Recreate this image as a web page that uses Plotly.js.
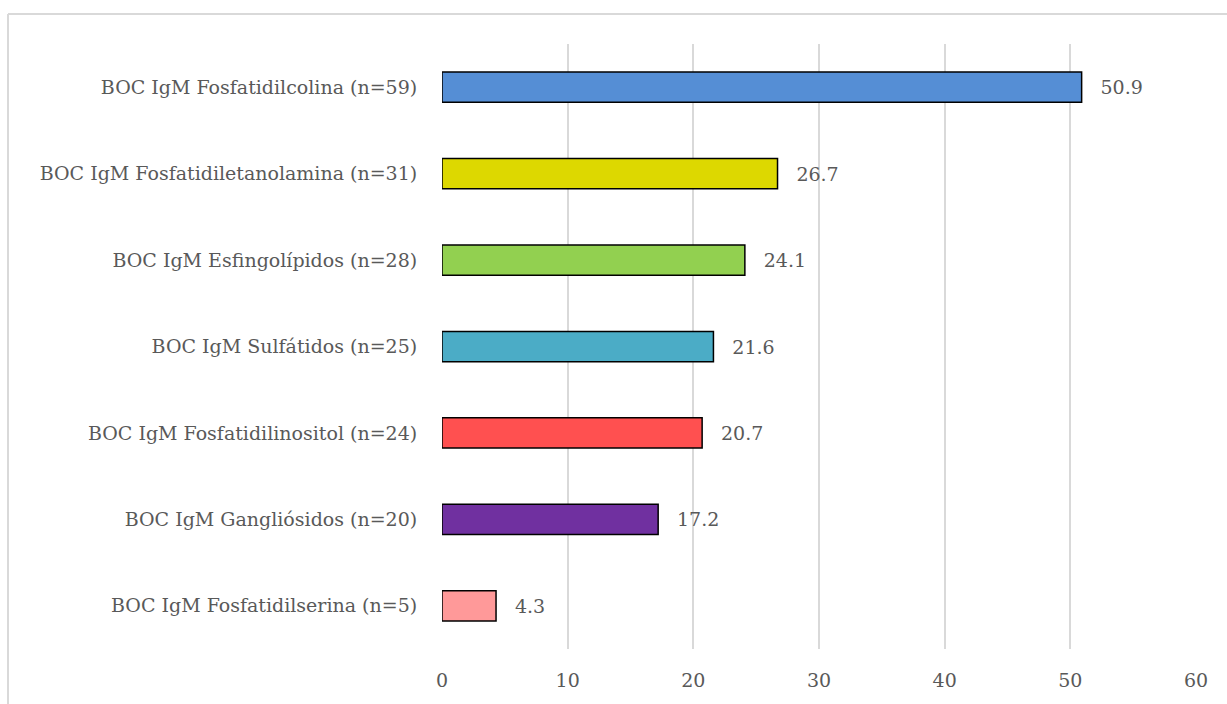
<!DOCTYPE html>
<html>
<head>
<meta charset="utf-8">
<script src="https://cdn.plot.ly/plotly-3.0.1.min.js"></script>
<style>
html,body{margin:0;padding:0;background:#fff;}
#chart{width:1227px;height:704px;}
</style>
</head>
<body>
<div id="chart"></div>
<script>
const categories = [
  "BOC IgM Fosfatidilcolina (n=59)",
  "BOC IgM Fosfatidiletanolamina (n=31)",
  "BOC IgM Esfingolípidos (n=28)",
  "BOC IgM Sulfátidos (n=25)",
  "BOC IgM Fosfatidilinositol (n=24)",
  "BOC IgM Gangliósidos (n=20)",
  "BOC IgM Fosfatidilserina (n=5)"
];
const values = [50.9, 26.7, 24.1, 21.6, 20.7, 17.2, 4.3];
const barColors = ["#558ED5", "#DDD800", "#92D050", "#4BACC6", "#FF5050", "#7030A0", "#FF9999"];
const xTicks = [0, 10, 20, 30, 40, 50, 60];

const fontFamily = "'DejaVu Serif', 'Liberation Serif', serif";
const textColor = "#595959";
const fontSize = 19;

const trace = {
  type: "bar",
  orientation: "h",
  y: categories,
  x: values,
  marker: {color: barColors, line: {color: "#000000", width: 1.5}},
  text: values.map(v => v.toFixed(1)),
  texttemplate: "  \u2009%{text}",
  textposition: "outside",
  cliponaxis: false,
  textfont: {family: fontFamily, size: fontSize, color: textColor},
  hoverinfo: "none"
};

const layout = {
  width: 1227,
  height: 704,
  margin: {l: 442, r: 31, t: 44, b: 55},
  paper_bgcolor: "#ffffff",
  plot_bgcolor: "#ffffff",
  showlegend: false,
  bargap: 0.65,
  font: {family: fontFamily, size: fontSize, color: textColor},
  xaxis: {
    range: [0, 60],
    tickvals: xTicks,
    ticktext: xTicks.map(String),
    showgrid: true,
    gridcolor: "#d9d9d9",
    gridwidth: 2,
    zeroline: false,
    showline: false,
    ticks: "outside",
    ticklen: 14,
    tickcolor: "rgba(0,0,0,0)",
    tickfont: {family: fontFamily, size: fontSize, color: textColor},
    fixedrange: true
  },
  yaxis: {
    type: "category",
    categoryorder: "array",
    categoryarray: categories,
    autorange: "reversed",
    showgrid: false,
    zeroline: false,
    showline: false,
    ticks: "outside",
    ticklen: 20,
    tickcolor: "rgba(0,0,0,0)",
    tickfont: {family: fontFamily, size: fontSize, color: textColor},
    fixedrange: true
  },
  shapes: [
    {type: "line", xref: "paper", yref: "paper", x0: -0.5756, x1: 1.1, y0: 1.0496, y1: 1.0496, line: {color: "#d9d9d9", width: 2}},
    {type: "line", xref: "paper", yref: "paper", x0: -0.5756, x1: -0.5756, y0: 1.0496, y1: -0.2, line: {color: "#d9d9d9", width: 2}}
  ]
};

Plotly.newPlot("chart", [trace], layout, {displayModeBar: false, staticPlot: true});
</script>
</body>
</html>
